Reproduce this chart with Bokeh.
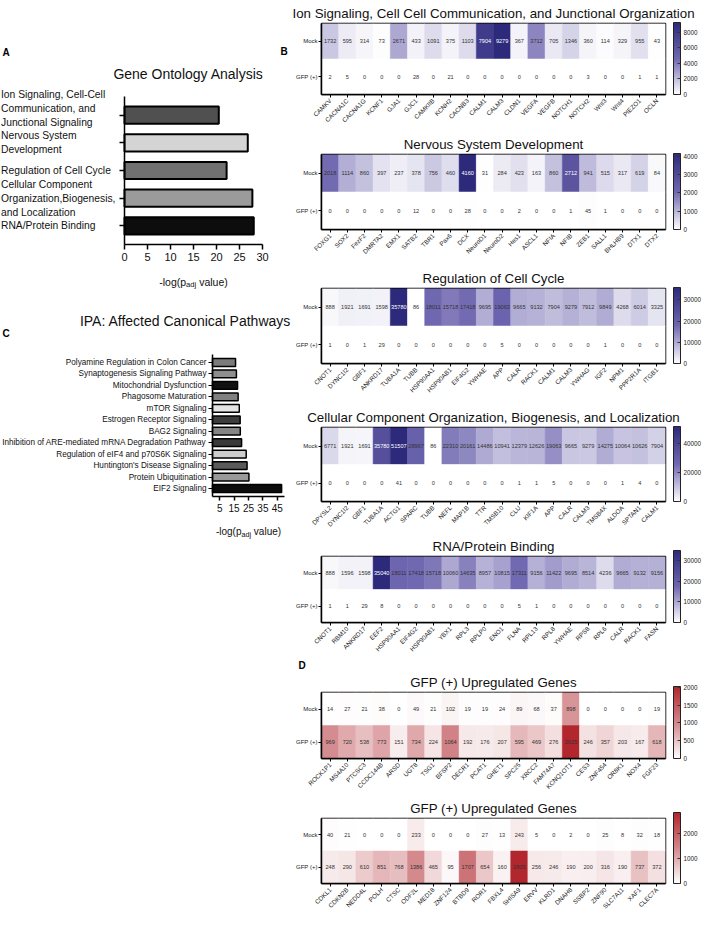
import math
import numpy as np
from bokeh.plotting import figure
from bokeh.models import (ColumnDataSource, LinearColorMapper, ColorBar, FixedTicker,
                          Range1d, FactorRange, Title, LinearAxis, CategoricalAxis)
from bokeh.layouts import row, column
from bokeh.embed import file_html
from bokeh.resources import INLINE
from bokeh.core.properties import value
from bokeh.transform import transform

FONT = "Liberation Sans"

# ---------------- data ----------------
go_terms = ["Ion Signaling, Cell-Cell\nCommunication, and\nJunctional Signaling",
            "Nervous System\nDevelopment",
            "Regulation of Cell Cycle",
            "Cellular Component\nOrganization,Biogenesis,\nand Localization",
            "RNA/Protein Binding"]
go_values = [20.5, 26.8, 22.2, 27.8, 28.1]
go_ticks = [0, 5, 10, 15, 20, 25, 30]

ipa_terms = ["Polyamine Regulation in Colon Cancer",
             "Synaptogenesis Signaling Pathway",
             "Mitochondrial Dysfunction",
             "Phagosome Maturation",
             "mTOR Signaling",
             "Estrogen Receptor Signaling",
             "BAG2 Signaling",
             "Inhibition of ARE-mediated mRNA Degradation Pathway",
             "Regulation of eIF4 and p70S6K Signaling",
             "Huntington's Disease Signaling",
             "Protein Ubiquitination",
             "EIF2 Signaling"]
ipa_values = [16.0, 16.6, 17.4, 17.8, 18.6, 19.2, 19.3, 20.2, 23.4, 24.0, 25.3, 48.0]
ipa_ticks = [5, 15, 25, 35, 45]

row_labels = ["Mock", "GFP (+)"]

hm1_title = "Ion Signaling, Cell Cell Communication, and Junctional Organization"
hm1_genes = ["CAMKV", "CACNA1C", "CACNA1G", "KCNF1", "GJA1", "GJC1", "CAMKIIB", "KCNH2", "CACNB3", "CALM1",
             "CALM3", "CLDN1", "VEGFA", "VEGFB", "NOTCH1", "NOTCH2", "Wnt3", "Wnt4", "PIEZO1", "OCLN"]
hm1_mock = [1732, 595, 314, 73, 2671, 433, 1091, 375, 1103, 7904, 9279, 367, 3712, 705, 1346, 360, 114, 329, 955, 43]
hm1_gfp = [2, 5, 0, 0, 0, 28, 0, 21, 0, 0, 0, 0, 0, 0, 0, 3, 0, 0, 1, 1]
hm1_bold = ["CAMKV", "CACNA1C", "CACNA1G", "KCNF1", "GJA1"]
hm1_ticks = [0, 2000, 4000, 6000, 8000]

hm2_title = "Nervous System Development"
hm2_genes = ["FOXG1", "SOX2", "FezF2", "DMRTA2", "EMX1", "SATB2", "TBR1", "Pax6", "DCX", "NeuroD1",
             "NeuroD2", "Hes1", "ASCL1", "NFIA", "NFIB", "ZEB1", "SALL1", "BHLHB9", "DTX1", "DTX2"]
hm2_mock = [2018, 1114, 860, 397, 237, 378, 756, 460, 4160, 31, 284, 423, 163, 860, 2712, 941, 515, 317, 619, 84]
hm2_gfp = [0, 0, 0, 0, 0, 12, 0, 0, 28, 0, 0, 2, 0, 0, 1, 45, 1, 0, 0, 0]
hm2_bold = ["FOXG1", "FezF2", "DMRTA2", "EMX1"]
hm2_ticks = [0, 1000, 2000, 3000, 4000]

hm3_title = "Regulation of Cell Cycle"
hm3_genes = ["CNOT1", "DYNC1I2", "GBF1", "ANKRD17", "TUBA1A", "TUBB", "HSP90AA1", "HSP90AB1", "EIF4G2", "YWHAE",
             "APP", "CALR", "RACK1", "CALM1", "CALM3", "YWHAG", "IGF2", "NPM1", "PPP2R1A", "ITGB1"]
hm3_mock = [888, 1921, 1691, 1598, 35780, 86, 18011, 15718, 17418, 9695, 19063, 9665, 9132, 7904, 9279, 7912, 9849, 4268, 6014, 3325]
hm3_gfp = [1, 0, 1, 29, 0, 0, 0, 0, 0, 0, 5, 0, 0, 0, 0, 0, 1, 0, 0, 0]
hm3_bold = []
hm3_ticks = [0, 10000, 20000, 30000]

hm4_title = "Cellular Component Organization, Biogenesis, and Localization"
hm4_genes = ["DPYSL2", "DYNC1I2", "GBF1", "TUBA1A", "ACTG1", "SPARC", "TUBB", "NEFL", "MAP1B", "TTR",
             "TMSB10", "CLU", "KIF1A", "APP", "CALR", "CALM3", "TMSB4X", "ALDOA", "SPTAN1", "CALM1"]
hm4_mock = [6771, 1921, 1691, 35780, 51507, 28967, 86, 22310, 20161, 14486, 10941, 12379, 12626, 19063, 9665, 9279, 14275, 10064, 10626, 7904]
hm4_gfp = [0, 0, 0, 0, 41, 0, 0, 0, 0, 0, 0, 1, 1, 5, 0, 0, 0, 1, 4, 0]
hm4_bold = []
hm4_ticks = [0, 20000, 40000]

hm5_title = "RNA/Protein Binding"
hm5_genes = ["CNOT1", "RBM10", "ANKRD17", "EEF2", "HSP90AA1", "EIF4G2", "HSP90AB1", "YBX1", "RPL3", "RPLP0",
             "ENO1", "FLNA", "RPL13", "RPL8", "YWHAE", "RPS8", "RPL6", "CALR", "RACK1", "FASN"]
hm5_mock = [888, 1596, 1598, 35040, 18011, 17418, 15718, 10060, 14635, 8957, 10815, 17311, 9156, 11422, 9695, 8514, 4236, 9665, 9132, 9156]
hm5_gfp = [1, 1, 29, 8, 0, 0, 0, 0, 0, 0, 0, 5, 1, 0, 0, 0, 0, 0, 0, 0]
hm5_bold = []
hm5_ticks = [0, 10000, 20000, 30000]

hm6_title = "GFP (+) Upregulated Genes"
hm6_genes = ["ROCK1P1", "MS4A10", "PTCSC3", "CCDC144B", "ARSD", "UGT8", "TSG1", "BFSP2", "DECR1", "PCAT1",
             "GHET1", "SPC25", "XRCC2", "FAM74A7", "KCNQ1OT1", "CES3", "ZNF454", "OR8K1", "NOX4", "FGF23"]
hm6_mock = [14, 27, 21, 38, 0, 49, 21, 102, 19, 19, 24, 89, 68, 37, 898, 0, 0, 0, 0, 19]
hm6_gfp = [969, 720, 538, 773, 151, 734, 224, 1064, 192, 176, 207, 595, 469, 276, 2025, 246, 357, 203, 167, 618]
hm6_bold = []
hm6_ticks = [0, 500, 1000, 1500, 2000]

hm7_title = "GFP (+) Upregulated Genes"
hm7_genes = ["CDKL1", "CDKN2B", "NEDD4L", "POLH", "CTSC", "ODF2L", "MED18", "ZNF124", "BTBD9", "ROR1",
             "FBXL4", "SHISA9", "ERVV", "KLRD1", "DNAH8", "SSBP2", "ZNF90", "SLC7A11", "XAF1", "CLEC7A"]
hm7_mock = [40, 21, 0, 0, 0, 233, 0, 0, 0, 27, 13, 243, 5, 0, 2, 0, 25, 8, 32, 18]
hm7_gfp = [248, 290, 610, 851, 768, 1386, 465, 95, 1707, 654, 160, 2835, 256, 246, 190, 200, 316, 190, 737, 372]
hm7_bold = []
hm7_ticks = [0, 1000, 2000]

# ---------------- styles ----------------
go_colors = ["#505050", "#d4d4d4", "#717171", "#9b9b9b", "#0d0d0d"]
go_label_shift = [-7, 0, 0, 0, 0]
ipa_colors = ["#7b7b7b", "#8e8e8e", "#111111", "#808080", "#e4e4e4", "#3d3d3d",
              "#858585", "#3a3a3a", "#cdcdcd", "#5a5a5a", "#9a9a9a", "#0c0c0c"]


def make_palette(stops, n=256):
    pos = [s[0] for s in stops]
    cols = [[int(s[1][i:i + 2], 16) for i in (1, 3, 5)] for s in stops]
    out = []
    for k in range(n):
        t = k / (n - 1)
        rgb = [int(round(np.interp(t, pos, [c[j] for c in cols]))) for j in range(3)]
        out.append("#%02x%02x%02x" % tuple(rgb))
    return out


PURPLE = make_palette([(0, "#ffffff"), (0.5, "#6f67b0"), (1, "#2d2a7c")])
RED = make_palette([(0, "#ffffff"), (0.5, "#d3878b"), (1, "#b2262d")])

AW = {'-': 333, 'l': 222, 'o': 556, 'g': 556, '(': 333, 'p': 556, 'a': 556, 'd': 556,
      'j': 222, ' ': 278, 'v': 500, 'u': 556, 'e': 556, ')': 333}


def tw(s, size):
    return sum(AW.get(ch, 556) for ch in s) / 1000.0 * size


def no_align(p):
    try:
        p.frame_align = False
    except Exception:
        pass


class PixelMap:
    """Maps canvas pixels of a full-frame panel to its data coordinates."""

    def __init__(self, width, height, bar_left, bar_right, x0, x1, bar_top, bar_bottom, y_top, y_bottom):
        self.ux = (x1 - x0) / float(bar_right - bar_left)
        self.uy = (y_bottom - y_top) / float(bar_bottom - bar_top)
        self.xs = x0 - bar_left * self.ux
        self.xe = x0 + (width - bar_left) * self.ux
        self.yt = y_top - bar_top * self.uy
        self.yb = y_top + (height - bar_top) * self.uy

    def X(self, px):
        return self.xs + px * self.ux

    def Y(self, py):
        return self.yt + py * self.uy


def add_text(p, pm, px, py, text, size, align="left", baseline="middle", style="normal", color="#111111"):
    p.text(x=[pm.X(px)], y=[pm.Y(py)], text=[text], text_font=value(FONT), text_font_size="%.1fpx" % size,
           text_align=align, text_baseline=baseline, text_font_style=style, text_color=color)


def padj_label(p, pm, cx, base_py, size):
    sub = size * 0.72
    parts = [("-log(p", size, 0.0), ("adj", sub, 3.0), ("value)", size, 0.0)]
    gaps = [0.0, 0.0, tw(" ", size)]
    total = sum(tw(t, s) for t, s, _ in parts) + sum(gaps)
    x = cx - total / 2.0
    for (t, s, dy), g in zip(parts, gaps):
        x += g
        add_text(p, pm, x, base_py + dy, t, s, baseline="alphabetic")
        x += tw(t, s)


def style_axis(ax, size, tick_out):
    ax.major_label_text_font = FONT
    ax.major_label_text_font_size = size
    ax.major_label_text_color = "#111111"
    ax.major_tick_out = tick_out
    ax.major_tick_in = 0
    ax.minor_tick_out = 0
    ax.minor_tick_in = 0
    ax.axis_line_width = 1.5
    ax.major_tick_line_width = 1.5


LW = 292
RW = 719 - 8 - LW

# ---------------- panel A (full-frame panel) ----------------
A_H = 296
a_idx = list(range(len(go_terms)))
pmA = PixelMap(LW, A_H, 124, 262, 0, 30, 96, 244, -0.67, len(go_terms) - 0.33)
pa = figure(width=LW, height=A_H, x_range=Range1d(pmA.xs, pmA.xe), y_range=Range1d(pmA.yb, pmA.yt),
            output_backend="svg", toolbar_location=None, x_axis_location=None, y_axis_location=None,
            min_border=0)
no_align(pa)
pa.outline_line_color = None
pa.xgrid.visible = False
pa.ygrid.visible = False
a_src = ColumnDataSource(dict(y=a_idx, v=go_values, c=go_colors, t=go_terms, yo=go_label_shift))
pa.hbar(y="y", left=0, right="v", height=0.62, source=a_src, fill_color="c",
        line_color="black", line_width=2)
axA = LinearAxis(fixed_location=len(go_terms) - 0.33, bounds=(0, 30), ticker=FixedTicker(ticks=go_ticks),
                 major_label_standoff=3)
style_axis(axA, "11px", 5)
pa.add_layout(axA, "below")
ayA = LinearAxis(fixed_location=0, bounds=(-0.67, len(go_terms) - 0.33), ticker=FixedTicker(ticks=a_idx),
                 major_label_text_color=None)
style_axis(ayA, "10px", 5)
ayA.major_label_text_color = None
pa.add_layout(ayA, "left")
pa.text(x=pmA.X(0.5), y="y", text="t", source=a_src, y_offset="yo", text_font=value(FONT),
        text_font_size="10.3px", text_align="left", text_baseline="middle", text_line_height=1.27,
        text_color="#111111")
add_text(pa, pmA, 188, 73, "Gene Ontology Analysis", 14, align="center")
add_text(pa, pmA, 2, 52, "A", 10, style="bold", color="#000000")
add_text(pa, pmA, 280, 51, "B", 10, style="bold", color="#000000")
padj_label(pa, pmA, 193, 281, 10.5)

# ---------------- panel C (full-frame panel) ----------------
C_H = 304
n_ipa = len(ipa_terms)
c_idx = list(range(n_ipa))
pmC = PixelMap(LW, C_H, 212, 284, 0, 50, 58, 200, -0.7, n_ipa - 0.3)
pc = figure(width=LW, height=C_H, x_range=Range1d(pmC.xs, pmC.xe), y_range=Range1d(pmC.yb, pmC.yt),
            output_backend="svg", toolbar_location=None, x_axis_location=None, y_axis_location=None,
            min_border=0)
no_align(pc)
pc.outline_line_color = None
pc.xgrid.visible = False
pc.ygrid.visible = False
c_src = ColumnDataSource(dict(y=c_idx, v=ipa_values, c=ipa_colors))
pc.hbar(y="y", left=0, right="v", height=0.68, source=c_src, fill_color="c",
        line_color="black", line_width=1.5)
axC = LinearAxis(fixed_location=n_ipa - 0.3, bounds=(0, 50), ticker=FixedTicker(ticks=ipa_ticks),
                 major_label_standoff=3)
style_axis(axC, "10px", 4)
pc.add_layout(axC, "below")
ayC = LinearAxis(fixed_location=0, bounds=(-0.7, n_ipa - 0.3), ticker=FixedTicker(ticks=c_idx),
                 major_label_overrides={i: t for i, t in enumerate(ipa_terms)}, major_label_standoff=2)
style_axis(ayC, "8.2px", 4)
ayC.major_tick_line_width = 1.2
pc.add_layout(ayC, "left")
add_text(pc, pmC, 185, 24, "IPA: Affected Canonical Pathways", 14, align="center")
add_text(pc, pmC, 2, 37, "C", 10, style="bold", color="#000000")
padj_label(pc, pmC, 248, 235, 10)

# ---------------- heatmaps ----------------
HM_LEFT, HM_RIGHT = 25, 46


def heatmap(title, genes, mock, gfp, bold, ticks, palette, fig_h, top, frame_h, light_text, letter=None):
    n = len(genes)
    xs = list(genes) + list(genes)
    ys = [row_labels[0]] * n + [row_labels[1]] * n
    vals = list(mock) + list(gfp)
    vmax = max(vals)
    tcol = ["#ffffff" if (light_text and v > 0.6 * vmax) else "#333333" for v in vals]
    src = ColumnDataSource(dict(x=xs, y=ys, v=vals, t=[str(v) for v in vals], tc=tcol))
    mapper = LinearColorMapper(palette=palette, low=0, high=vmax)
    p = figure(width=RW, height=fig_h, x_range=FactorRange(*genes),
               y_range=FactorRange(row_labels[1], row_labels[0]),
               output_backend="svg", toolbar_location=None,
               min_border_left=HM_LEFT, min_border_right=HM_RIGHT,
               min_border_top=top, min_border_bottom=fig_h - top - frame_h)
    no_align(p)
    p.rect(x="x", y="y", width=1, height=1, source=src, fill_color=transform("v", mapper),
           line_color=transform("v", mapper), line_width=0.5)
    p.text(x="x", y="y", text="t", source=src, text_align="center", text_baseline="middle",
           text_font_size="5.6px", text_color="tc", text_font=value(FONT))
    p.xgrid.visible = False
    p.ygrid.visible = False
    p.outline_line_color = "black"
    p.outline_line_width = 1.5
    p.outline_line_alpha = 1.0
    xa = p.xaxis[0]
    xa.major_label_orientation = math.pi / 4
    xa.major_label_text_font = FONT
    xa.major_label_text_font_size = "6.3px"
    xa.major_label_text_color = "#222222"
    xa.major_label_standoff = 2
    xa.major_tick_out = 3
    xa.major_tick_in = 0
    xa.axis_line_width = 1.5
    if bold:
        xa.major_label_overrides = {g: "" for g in bold}
        p.add_layout(CategoricalAxis(fixed_location=0, major_label_orientation=math.pi / 4,
                                     major_label_text_font=FONT, major_label_text_font_size="6.3px",
                                     major_label_text_font_style="bold", major_label_text_color="#111111",
                                     major_label_standoff=2, major_tick_out=3, major_tick_in=0,
                                     major_tick_line_color=None, axis_line_color=None,
                                     major_label_overrides={g: "" for g in genes if g not in bold}),
                     "below")
    ya = p.yaxis[0]
    ya.major_label_text_font = FONT
    ya.major_label_text_font_size = "6px"
    ya.major_label_text_color = "#222222"
    ya.major_label_standoff = 1
    ya.major_tick_out = 3
    ya.major_tick_in = 0
    ya.axis_line_width = 1.5
    title_kw = dict(text_font=FONT, text_font_size="13.3px", text_font_style="normal",
                    text_color="#111111", align="center", standoff=6 if letter is None else 5)
    if letter is None:
        p.title.text = title
        for k, v in title_kw.items():
            setattr(p.title, k, v)
    else:
        # outer row: panel letter; inner row: heatmap title
        p.title.text = letter
        p.title.text_font = FONT
        p.title.text_font_size = "10px"
        p.title.text_font_style = "bold"
        p.title.text_color = "#000000"
        p.title.align = "left"
        p.title.offset = 294 - (LW + HM_LEFT)
        p.title.standoff = 0
        p.add_layout(Title(text=title, **title_kw), "above")
    cb = ColorBar(color_mapper=mapper, ticker=FixedTicker(ticks=ticks), width=7, height=frame_h,
                  padding=0, margin=0, location=(8, 0), label_standoff=3,
                  major_label_text_font=FONT, major_label_text_font_size="6.3px",
                  major_label_text_color="#222222",
                  major_tick_line_color="#333333", major_tick_in=3, major_tick_out=0,
                  minor_tick_line_color=None,
                  bar_line_color="#222222", bar_line_width=1,
                  background_fill_alpha=0, border_line_color=None)
    p.add_layout(cb, "right")
    return p


specs = [
    (hm1_title, hm1_genes, hm1_mock, hm1_gfp, hm1_bold, hm1_ticks, PURPLE, 131, 22, 72, True),
    (hm2_title, hm2_genes, hm2_mock, hm2_gfp, hm2_bold, hm2_ticks, PURPLE, 134, 22, 76, True),
    (hm3_title, hm3_genes, hm3_mock, hm3_gfp, hm3_bold, hm3_ticks, PURPLE, 139, 22, 76, True),
    (hm4_title, hm4_genes, hm4_mock, hm4_gfp, hm4_bold, hm4_ticks, PURPLE, 129, 22, 75, True),
    (hm5_title, hm5_genes, hm5_mock, hm5_gfp, hm5_bold, hm5_ticks, PURPLE, 124, 22, 72, True),
    (hm6_title, hm6_genes, hm6_mock, hm6_gfp, hm6_bold, hm6_ticks, RED, 138, 32, 72, False, "D"),
    (hm7_title, hm7_genes, hm7_mock, hm7_gfp, hm7_bold, hm7_ticks, RED, 120, 22, 71, False),
]
hms = [heatmap(*s) for s in specs]

layout = row(column(pa, pc), column(*hms))
open("out.html", "w").write(file_html(layout, INLINE))
